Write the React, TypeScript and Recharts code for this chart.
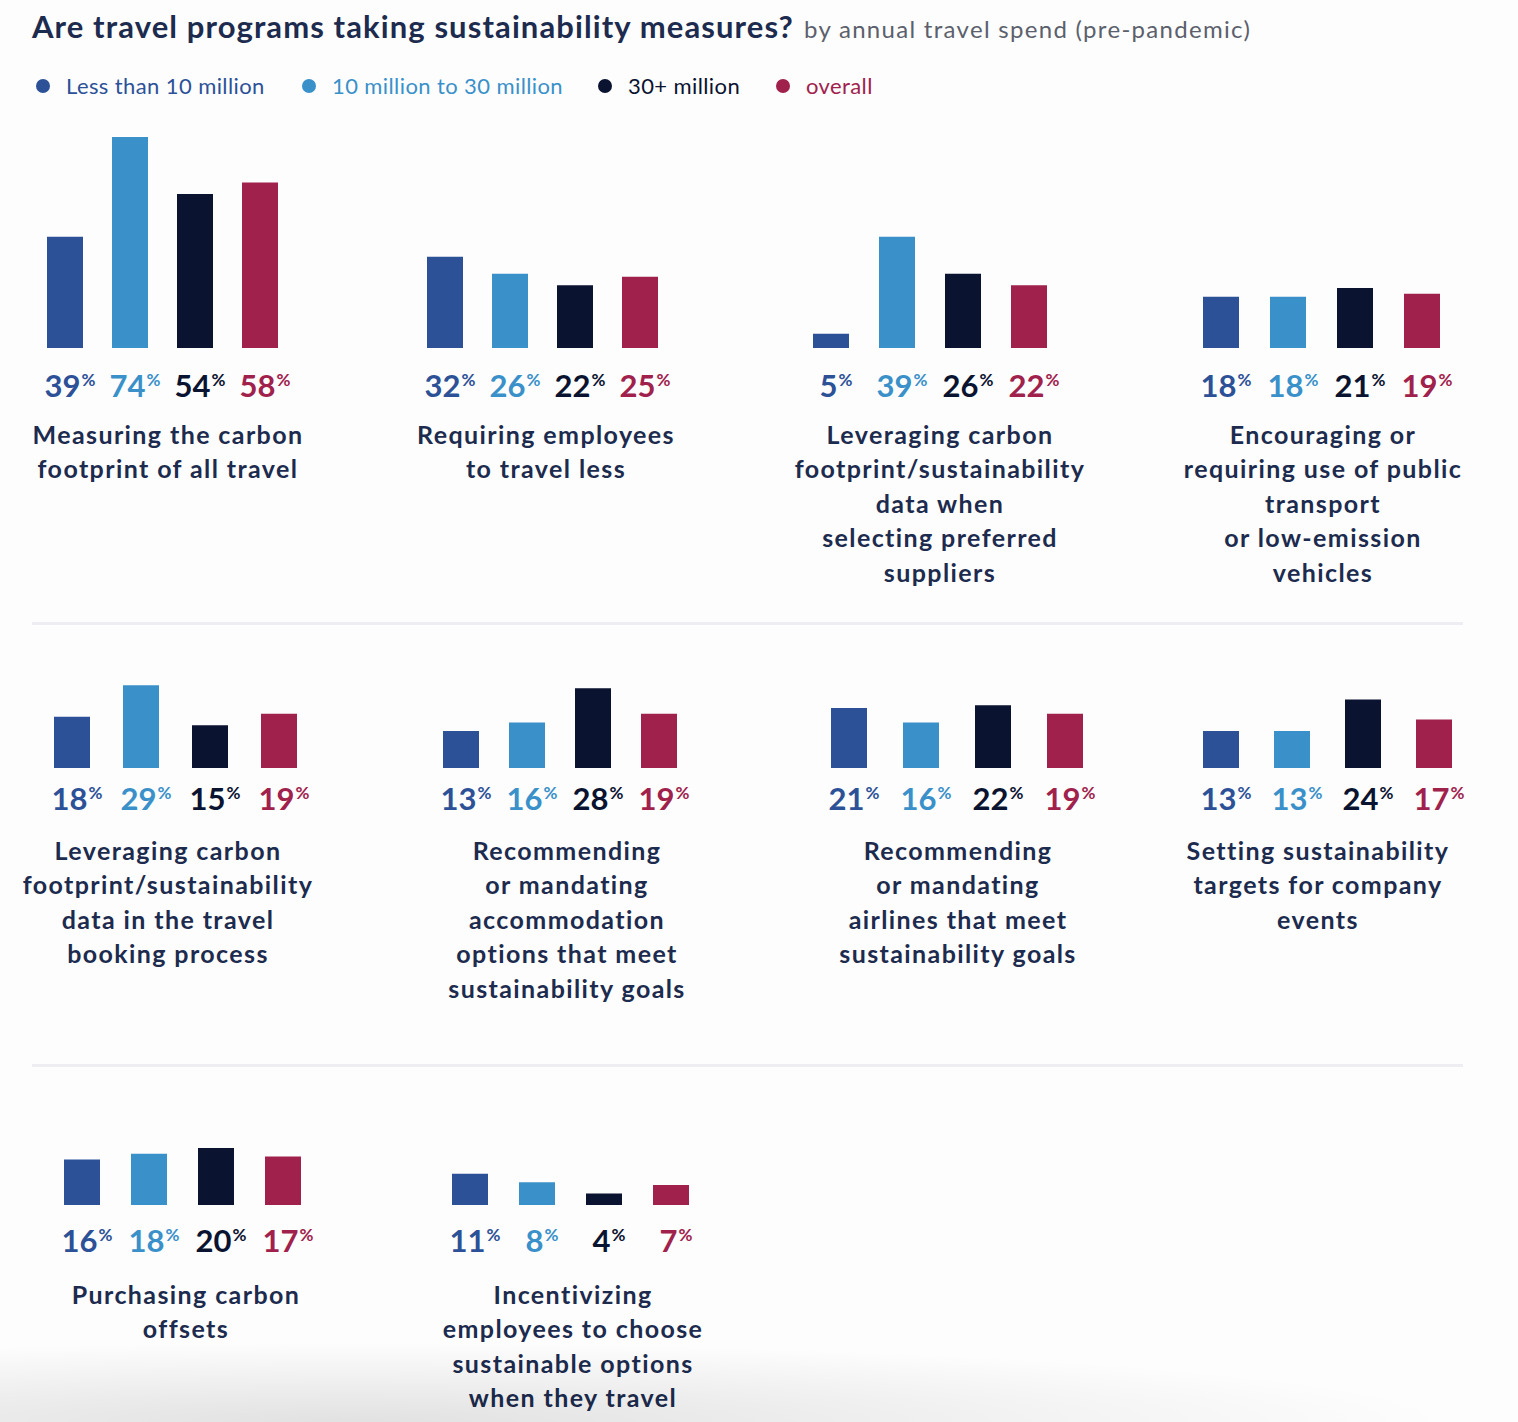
import { BarChart, Bar, XAxis, YAxis, LabelList } from 'recharts'

const MEASURES = [
  'Measuring the carbon\nfootprint of all travel',
  'Requiring employees\nto travel less',
  'Leveraging carbon\nfootprint/sustainability\ndata when\nselecting preferred\nsuppliers',
  'Encouraging or\nrequiring use of public\ntransport\nor low-emission\nvehicles',
  'Leveraging carbon\nfootprint/sustainability\ndata in the travel\nbooking process',
  'Recommending\nor mandating\naccommodation\noptions that meet\nsustainability goals',
  'Recommending\nor mandating\nairlines that meet\nsustainability goals',
  'Setting sustainability\ntargets for company\nevents',
  'Purchasing carbon\noffsets',
  'Incentivizing\nemployees to choose\nsustainable options\nwhen they travel',
]

const LESS_10M = [39, 32, 5, 18, 18, 13, 21, 13, 16, 11]
const MID_10_30M = [74, 26, 39, 18, 29, 16, 16, 13, 18, 8]
const OVER_30M = [54, 22, 26, 21, 15, 28, 22, 24, 20, 4]
const OVERALL = [58, 25, 22, 19, 19, 19, 19, 17, 17, 7]

const SERIES = [
  { key: 'less', label: 'Less than 10 million', color: '#2c5197', values: LESS_10M },
  { key: 'mid', label: '10 million to 30 million', color: '#3a90c9', values: MID_10_30M },
  { key: 'large', label: '30+ million', color: '#0a1330', values: OVER_30M },
  { key: 'overall', label: 'overall', color: '#a0214c', values: OVERALL },
]

// layout of the small multiples
const PLOT_H = 211
const Y_MAX = 74
const ROWS = [
  { baseline: 348, pct: 49, title: 87 },
  { baseline: 768, pct: 42, title: 83 },
  { baseline: 1205, pct: 47, title: 90 },
]
const PANELS = [
  { row: 0, cx: 162, tx: 168, step: 65 },
  { row: 0, cx: 542, tx: 546, step: 65 },
  { row: 0, cx: 930, tx: 940, step: 66 },
  { row: 0, cx: 1321, tx: 1323, step: 67 },
  { row: 1, cx: 175, tx: 168, step: 69 },
  { row: 1, cx: 560, tx: 567, step: 66 },
  { row: 1, cx: 957, tx: 958, step: 72 },
  { row: 1, cx: 1327, tx: 1318, step: 71 },
  { row: 2, cx: 182, tx: 186, step: 67 },
  { row: 2, cx: 570, tx: 573, step: 67 },
]

const FONT = 'Lato, "Open Sans", sans-serif'
const NAVY = '#1c2b4e'

function pctLabel(color: string, dy: number) {
  return (props: any) => {
    const { x, y, width, height, value } = props
    return (
      <text
        x={Number(x) + Number(width) / 2 + 5}
        y={Number(y) + Number(height) + dy}
        textAnchor="middle"
        fill={color}
        fontFamily={FONT}
        fontWeight={700}
      >
        <tspan fontSize={31}>{value}</tspan>
        <tspan fontSize={17} dx={1} dy={-11}>%</tspan>
      </text>
    )
  }
}

function Panel({ index }: { index: number }) {
  const p = PANELS[index]
  const row = ROWS[p.row]
  const width = p.step * 4
  const data = [
    {
      name: MEASURES[index],
      less: LESS_10M[index],
      mid: MID_10_30M[index],
      large: OVER_30M[index],
      overall: OVERALL[index],
    },
  ]
  return (
    <>
      <div style={{ position: 'absolute', left: p.cx - width / 2, top: row.baseline - PLOT_H }}>
        <BarChart
          width={width}
          height={PLOT_H + 70}
          data={data}
          margin={{ top: 0, right: 0, bottom: 70, left: 0 }}
          barSize={36}
          barGap={p.step - 36}
        >
          <XAxis dataKey="name" hide />
          <YAxis hide domain={[0, Y_MAX]} />
          {SERIES.map(s => (
            <Bar key={s.key} dataKey={s.key} fill={s.color} isAnimationActive={false}>
              <LabelList dataKey={s.key} content={pctLabel(s.color, row.pct)} />
            </Bar>
          ))}
        </BarChart>
      </div>
      <div
        style={{
          position: 'absolute',
          left: p.tx - 200,
          width: 400,
          top: row.baseline + row.title - 18,
          textAlign: 'center',
          whiteSpace: 'pre-line',
          fontFamily: FONT,
          fontWeight: 700,
          fontSize: 25,
          lineHeight: '34.4px',
          letterSpacing: 1.4,
          color: NAVY,
        }}
      >
        {MEASURES[index]}
      </div>
    </>
  )
}

export default function App() {
  const legendX = [43, 309, 605, 783]
  return (
    <div
      style={{
        position: 'relative',
        width: 1518,
        height: 1422,
        background: '#fdfdfd',
        fontFamily: FONT,
        overflow: 'hidden',
      }}
    >
      <style>{'body{margin:0}'}</style>
      <div style={{ position: 'absolute', left: 32, top: 11, whiteSpace: 'nowrap', lineHeight: '31px' }}>
        <span style={{ fontSize: 31, fontWeight: 700, color: NAVY, letterSpacing: 1.1 }}>
          Are travel programs taking sustainability measures?
        </span>
        <span style={{ fontSize: 24, color: '#5b606c', marginLeft: 10, letterSpacing: 1.3 }}>
          by annual travel spend (pre-pandemic)
        </span>
      </div>
      {SERIES.map((s, i) => (
        <div
          key={s.key}
          style={{
            position: 'absolute',
            left: legendX[i] - 7,
            top: 75,
            display: 'flex',
            alignItems: 'center',
            whiteSpace: 'nowrap',
            fontSize: 22,
            letterSpacing: 0.4,
            lineHeight: '22px',
            color: s.color,
          }}
        >
          <span
            style={{
              width: 14,
              height: 14,
              borderRadius: '50%',
              background: s.color,
              display: 'inline-block',
              marginRight: 16,
            }}
          />
          {s.label}
        </div>
      ))}
      {[622, 1064].map(y => (
        <div
          key={y}
          style={{ position: 'absolute', left: 32, top: y, width: 1431, height: 3, background: '#eeeef2' }}
        />
      ))}
      {MEASURES.map((_, i) => (
        <Panel key={i} index={i} />
      ))}
      <div
        style={{
          position: 'absolute',
          left: 0,
          bottom: 0,
          width: 1518,
          height: 90,
          background: 'radial-gradient(ellipse 1100px 80px at 350px 100%, rgba(0,0,0,0.11), rgba(0,0,0,0))',
        }}
      />
    </div>
  )
}
